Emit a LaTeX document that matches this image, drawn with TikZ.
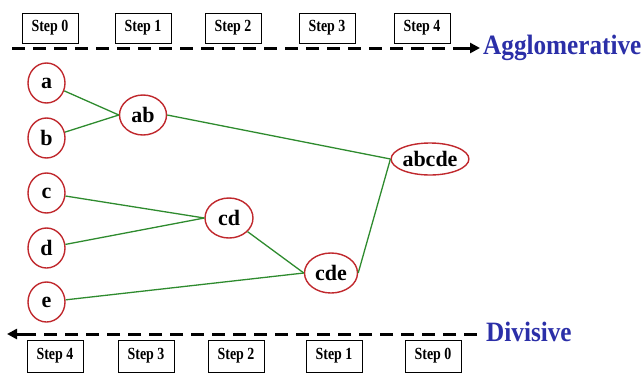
\documentclass[tikz,border=0pt]{standalone}
\usepackage{fontspec}
\setmainfont{Liberation Serif}
\newfontfamily\stepfont[FakeStretch=0.82]{Liberation Serif}
\newfontfamily\dirfont[FakeStretch=0.9]{Liberation Serif}
\usetikzlibrary{shapes.geometric,arrows.meta}
\definecolor{ringred}{HTML}{C0282D}
\definecolor{linkgreen}{HTML}{2E8B2E}
\definecolor{dirblue}{HTML}{2B2FA8}
\tikzset{
  stepbox/.style={draw=black, line width=0.8pt, fill=white, minimum width=56pt,
    minimum height=30pt, inner sep=0pt, font=\stepfont\bfseries\fontsize{17}{17}\selectfont},
  cluster/.style={ellipse, draw=ringred, line width=1.4pt, fill=white, inner sep=0pt,
    minimum height=40pt, font=\bfseries\fontsize{22}{22}\selectfont},
  link/.style={draw=linkgreen, line width=1.3pt},
  flowdash/.style={line width=3pt, dash pattern=on 13pt off 8pt},
  flowhead/.style={line width=3pt, -{Triangle[length=10pt,width=10pt]}},
  dirlabel/.style={text=dirblue, anchor=west, inner sep=0pt, font=\dirfont\bfseries\fontsize{28}{28}\selectfont}
}
\begin{document}
\begin{tikzpicture}[x=1pt,y=-1pt]
\useasboundingbox (0,0) rectangle (644,373);

% merge direction (top)
\node[stepbox] (t0) at (50,28) {Step 0};
\node[stepbox] (t1) at (143,28) {Step 1};
\node[stepbox] (t2) at (233,28) {Step 2};
\node[stepbox] (t3) at (327,28) {Step 3};
\node[stepbox] (t4) at (422,28) {Step 4};
\coordinate (tl) at (12,48);
\coordinate (tm) at (456,48);
\coordinate (tr) at (480,48);
\draw[flowdash] (tl) -- (tm);
\draw[flowhead] (tm) -- (tr);
\node[dirlabel] (agg) at (483,48) {Agglomerative};

% split direction (bottom)
\node[stepbox, minimum height=32pt] (b4) at (55,356) {Step 4};
\node[stepbox, minimum height=32pt] (b3) at (146,356) {Step 3};
\node[stepbox, minimum height=32pt] (b2) at (236,356) {Step 2};
\node[stepbox, minimum height=32pt] (b1) at (334,356) {Step 1};
\node[stepbox, minimum height=32pt] (b0) at (433,356) {Step 0};
\coordinate (br) at (477,334);
\coordinate (bm) at (30,334);
\coordinate (bl) at (7,334);
\draw[flowdash] (br) -- (bm);
\draw[flowhead] (bm) -- (bl);
\node[dirlabel] (div) at (486,332) {Divisive};

% clusters
\node[cluster, minimum width=37pt] (a) at (46.5,83) {a};
\node[cluster, minimum width=37pt] (b) at (46.5,138) {b};
\node[cluster, minimum width=37pt] (c) at (46.5,193) {c};
\node[cluster, minimum width=37pt] (d) at (46.5,248) {d};
\node[cluster, minimum width=37pt] (e) at (46.5,302) {e};
\node[cluster, minimum width=47pt] (ab) at (143,115) {ab};
\node[cluster, minimum width=48pt] (cd) at (229,218) {cd};
\node[cluster, minimum width=53pt] (cde) at (331,273) {cde};
\node[cluster, minimum width=74pt, minimum height=32pt] (abcde) at (430,159) {abcde};

% links
\draw[link] (a) -- (ab.west);
\draw[link] (b) -- (ab.west);
\draw[link] (c) -- (cd.west);
\draw[link] (d) -- (cd.west);
\draw[link] (e) -- (cde.west);
\draw[link] (cd) -- (cde.west);
\draw[link] (ab.east) -- (abcde.west);
\draw[link] (cde.east) -- (abcde.west);
\end{tikzpicture}
\end{document}
